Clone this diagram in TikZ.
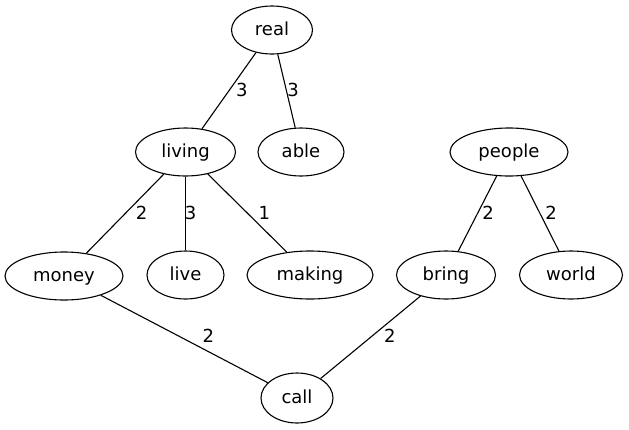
\documentclass[tikz,border=0pt]{standalone}
\usepackage{fontspec}
\setmainfont{DejaVu Sans}
\usetikzlibrary{shapes.geometric}
\tikzset{
  word/.style={ellipse, draw=black, line width=1.1pt, minimum height=48pt, inner sep=0pt,
    text height=13.7pt, text depth=3.7pt},
  link/.style={line width=1.1pt},
  weight/.style={midway, inner sep=0pt}
}

\begin{document}
\begin{tikzpicture}[
    x=1pt, y=-1pt,
    every node/.style={font=\fontsize{18}{21}\selectfont},
]
\useasboundingbox (0,0) rectangle (629,429);

% words
\node[word, minimum width=81pt]  (real)   at (272,30)  {real};
\node[word, minimum width=100pt] (living) at (185.5,152) {living};
\node[word, minimum width=86pt]  (able)   at (301,152) {able};
\node[word, minimum width=118pt] (people) at (509,152) {people};
\node[word, minimum width=118pt] (money)  at (64,276)  {money};
\node[word, minimum width=77pt]  (live)   at (185.5,275) {live};
\node[word, minimum width=126pt] (making) at (310,275) {making};
\node[word, minimum width=99pt]  (bring)  at (446,275) {bring};
\node[word, minimum width=103pt] (world)  at (571,275) {world};
\node[word, minimum width=72pt, minimum height=50pt] (call) at (297,398) {call};

% links with their weights
\draw[link] (real) -- (living) node[weight, xshift=13pt, yshift=0.5pt] {3};
\draw[link] (real) -- (able) node[weight, xshift=6.5pt, yshift=1pt] {3};
\draw[link] (living) -- (money) node[weight, xshift=16.5pt, yshift=1pt] {2};
\draw[link] (living) -- (live) node[weight, xshift=5pt, yshift=0.7pt] {3};
\draw[link] (living) -- (making) node[weight, xshift=17pt] {1};
\draw[link] (people) -- (bring) node[weight, xshift=10.6pt, yshift=1pt] {2};
\draw[link] (people) -- (world) node[weight, xshift=11pt, yshift=0.5pt] {2};
\draw[link] (money) -- (call) node[weight, xshift=24pt, yshift=3pt] {2};
\draw[link] (bring) -- (call) node[weight, xshift=19.3pt, yshift=1.5pt] {2};

\end{tikzpicture}
\end{document}
